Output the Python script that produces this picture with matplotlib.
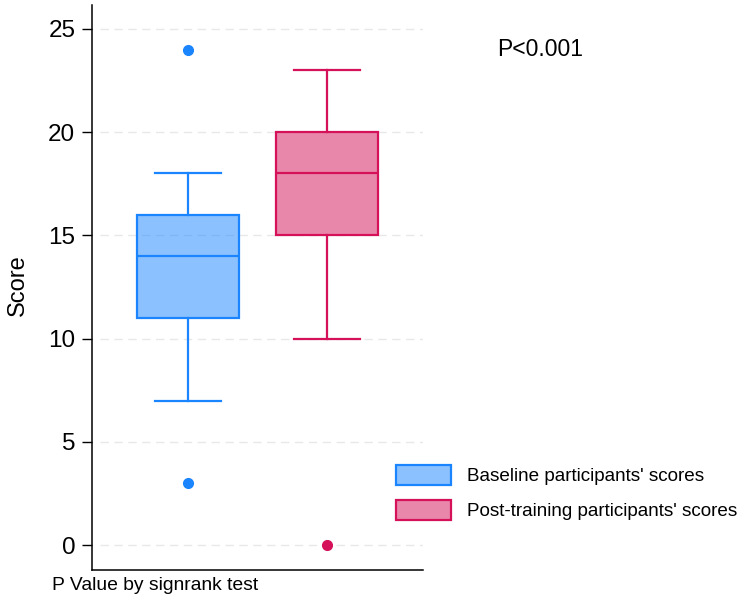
import matplotlib
matplotlib.use("Agg")
import matplotlib.pyplot as plt
from matplotlib.patches import Patch

plt.rcParams['font.family'] = ['Liberation Sans', 'DejaVu Sans']

# box plot summaries
groups = ["Baseline participants' scores", "Post-training participants' scores"]
q1 = [11, 15]
median = [14, 18]
q3 = [16, 20]
whisker_lo = [7, 10]
whisker_hi = [18, 23]
outliers = [[3, 24], [0]]
yticks = [0, 5, 10, 15, 20, 25]

edge_colors = ['#1a85ff', '#d41159']

stats = []
for i in range(len(groups)):
    stats.append({'label': groups[i], 'q1': q1[i], 'med': median[i], 'q3': q3[i],
                  'whislo': whisker_lo[i], 'whishi': whisker_hi[i], 'fliers': outliers[i]})

fig = plt.figure(figsize=(7.44, 6.01), dpi=100)
ax = fig.add_axes([92/744, 31/601, 331/744, 565/601])

for i, st in enumerate(stats):
    c = edge_colors[i]
    ax.bxp([st], positions=[i + 1], widths=0.74, capwidths=0.48, patch_artist=True,
           showfliers=True,
           boxprops=dict(facecolor=c, edgecolor=c, linewidth=1.6),
           medianprops=dict(color=c, linewidth=1.6),
           whiskerprops=dict(color=c, linewidth=1.6),
           capprops=dict(color=c, linewidth=1.6),
           flierprops=dict(marker='o', markerfacecolor=c, markeredgecolor=c, markersize=7))
    # half-transparent fill, opaque edge
    ax.patches[-1].set_facecolor(matplotlib.colors.to_rgba(c, 0.5))

ax.set_xlim(0.31, 2.69)
ax.set_ylim(-1.21, 26.16)
ax.set_yticks(yticks)
ax.set_xticks([])
ax.tick_params(axis='y', labelsize=17.5, length=7, width=1, pad=5)
for y in yticks:
    ax.plot([0.37, 2.69], [y, y], color='#e8e8e8', linewidth=1, linestyle=(0, (6, 4)), zorder=0)
ax.spines['top'].set_visible(False)
ax.spines['right'].set_visible(False)
ax.spines['left'].set_linewidth(1.1)
ax.spines['bottom'].set_linewidth(1.1)

fig.text(18/744, 1 - 285/601, 'Score', rotation=90, fontsize=17, ha='center', va='center')
fig.text(497/744, 1 - 50/601, 'P<0.001', fontsize=16.5, ha='left', va='center')
fig.text(52/744, 1 - 586/601, 'P Value by signrank test', fontsize=13.9, ha='left', va='center')

handles = [Patch(facecolor=matplotlib.colors.to_rgba(c, 0.5), edgecolor=c, linewidth=1.6)
           for c in edge_colors]
fs = 13.6
fig.legend(handles, groups, loc='upper left', bbox_to_anchor=(396/744, 1 - 465/601),
           frameon=False, fontsize=fs, handlelength=39.6/fs, handleheight=16.6/fs,
           labelspacing=10.8/fs, handletextpad=11.5/fs, borderpad=0, borderaxespad=0)

fig.savefig('out.png', dpi=100)
